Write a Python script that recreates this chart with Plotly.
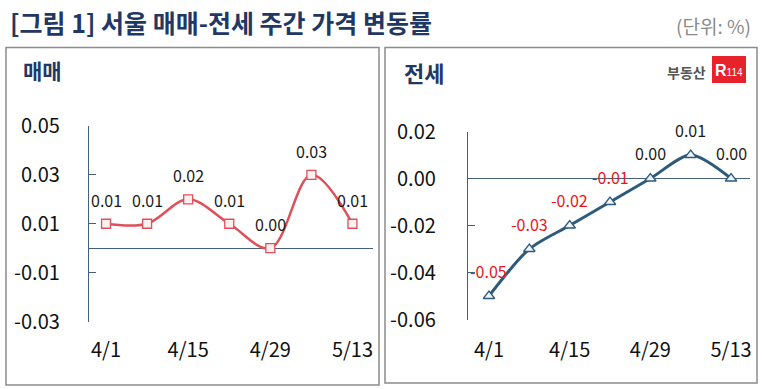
import plotly.graph_objects as go

# ---- data ----
dates = ["4/1", "4/8", "4/15", "4/22", "4/29", "5/6", "5/13"]
tick_dates = ["4/1", "4/15", "4/29", "5/13"]
sale = [0.01, 0.01, 0.02, 0.01, 0.00, 0.03, 0.01]
jeonse = [-0.05, -0.03, -0.02, -0.01, 0.00, 0.01, 0.00]
sale_ticks = [0.05, 0.03, 0.01, -0.01, -0.03]
jeonse_ticks = [0.02, 0.00, -0.02, -0.04, -0.06]

W, H = 764, 389
FONT = "Noto Sans CJK KR"
NAVY = "#1f3864"
AXIS = "#44607e"
RED_LINE = "#e0505a"
BLUE_LINE = "#2e5b7c"


def px(x):
    return x / W


def py(y):
    return (H - y) / H


fig = go.Figure()

fig.add_trace(go.Scatter(
    x=dates, y=sale, mode="lines+markers", xaxis="x", yaxis="y",
    line=dict(color=RED_LINE, width=2.5, shape="spline", smoothing=1.0),
    marker=dict(symbol="square", size=9, color="#fdf0f1",
                line=dict(color=RED_LINE, width=1.3)),
    cliponaxis=False, showlegend=False, hoverinfo="skip"))

fig.add_trace(go.Scatter(
    x=dates, y=jeonse, mode="lines+markers", xaxis="x2", yaxis="y2",
    line=dict(color=BLUE_LINE, width=3, shape="spline", smoothing=0.8),
    marker=dict(symbol="triangle-up", size=10, color="#eef4fa",
                line=dict(color=BLUE_LINE, width=1.3)),
    cliponaxis=False, showlegend=False, hoverinfo="skip"))

annotations = []
for d, v in zip(dates, sale):
    annotations.append(dict(x=d, y=v, xref="x", yref="y", text=f"{v:.2f}",
                            showarrow=False, yshift=24,
                            font=dict(family=FONT, size=16,
                                      color="#e8161a" if v < 0 else "#1a1a1a")))
for d, v in zip(dates, jeonse):
    annotations.append(dict(x=d, y=v, xref="x2", yref="y2", text=f"{v:.2f}",
                            showarrow=False, yshift=25,
                            font=dict(family=FONT, size=16,
                                      color="#e8161a" if v < 0 else "#1a1a1a")))

# titles
annotations += [
    dict(x=px(8), y=py(22), xref="paper", yref="paper", xanchor="left", yanchor="middle",
         text="<b>[그림 1] 서울 매매-전세 주간 가격 변동률</b>", showarrow=False,
         font=dict(family=FONT, size=25, color=NAVY)),
    dict(x=px(753), y=py(26), xref="paper", yref="paper", xanchor="right", yanchor="middle",
         text="(단위: %)", showarrow=False,
         font=dict(family=FONT, size=19, color="#8a8a8a")),
    dict(x=px(21), y=py(70), xref="paper", yref="paper", xanchor="left", yanchor="middle",
         text="<b>매매</b>", showarrow=False,
         font=dict(family=FONT, size=21, color=NAVY)),
    dict(x=px(402), y=py(72), xref="paper", yref="paper", xanchor="left", yanchor="middle",
         text="<b>전세</b>", showarrow=False,
         font=dict(family=FONT, size=22, color=NAVY)),
    dict(x=px(708), y=py(72), xref="paper", yref="paper", xanchor="right", yanchor="middle",
         text="<b>부동산</b>", showarrow=False,
         font=dict(family=FONT, size=14, color="#555555")),
    dict(x=px(729), y=py(70), xref="paper", yref="paper", xanchor="center", yanchor="middle",
         text="<b>R</b><span style='font-size:10px'>114</span>", showarrow=False,
         font=dict(family="Liberation Sans", size=16, color="white")),
]

shapes = [
    dict(type="rect", xref="paper", yref="paper", x0=px(6), x1=px(379), y0=py(385), y1=py(47.5),
         line=dict(color="#8c8c8c", width=1.5), fillcolor="rgba(0,0,0,0)", layer="below"),
    dict(type="rect", xref="paper", yref="paper", x0=px(385), x1=px(757), y0=py(383), y1=py(47.5),
         line=dict(color="#8c8c8c", width=1.5), fillcolor="rgba(0,0,0,0)", layer="below"),
    dict(type="rect", xref="paper", yref="paper", x0=px(712), x1=px(746), y0=py(83), y1=py(56),
         line=dict(width=0), fillcolor="#e8222b", layer="below"),
]

yax_common = dict(showgrid=False, zeroline=True, zerolinecolor=AXIS, zerolinewidth=1.2,
                  showline=True, linecolor=AXIS, linewidth=1.3, ticks="inside", ticklen=7,
                  tickcolor=AXIS, tickwidth=1.3, automargin=False,
                  tickfont=dict(family=FONT, size=20, color="#111111"))
xax_common = dict(type="category", showgrid=False, zeroline=False, showline=False, ticks="",
                  automargin=False,
                  tickfont=dict(family=FONT, size=20, color="#111111"))

fig.update_layout(
    width=W, height=H, margin=dict(l=0, r=0, t=0, b=0, autoexpand=False),
    paper_bgcolor="white", plot_bgcolor="rgba(0,0,0,0)",
    xaxis=dict(domain=[px(89), px(373)], range=[-0.415, 6.5], anchor="y",
               tickvals=tick_dates, ticktext=tick_dates, ticklabelstandoff=14, **xax_common),
    yaxis=dict(domain=[py(321.5), py(126)], range=[-0.03, 0.05], anchor="x",
               tickvals=sale_ticks, ticktext=[f"{v:.2f}" for v in sale_ticks],
               ticklabelstandoff=24, **yax_common),
    xaxis2=dict(domain=[px(468), px(750)], range=[-0.52, 6.47], anchor="y2",
                tickvals=tick_dates, ticktext=tick_dates, ticklabelstandoff=16, **xax_common),
    yaxis2=dict(domain=[py(319.5), py(131.5)], range=[-0.06, 0.02], anchor="x2",
                tickvals=jeonse_ticks, ticktext=[f"{v:.2f}" for v in jeonse_ticks],
                ticklabelstandoff=27, **yax_common),
    annotations=annotations, shapes=shapes,
)

fig.write_html("out.html", config={"displayModeBar": False},
               post_script="document.body.style.margin='0';")
